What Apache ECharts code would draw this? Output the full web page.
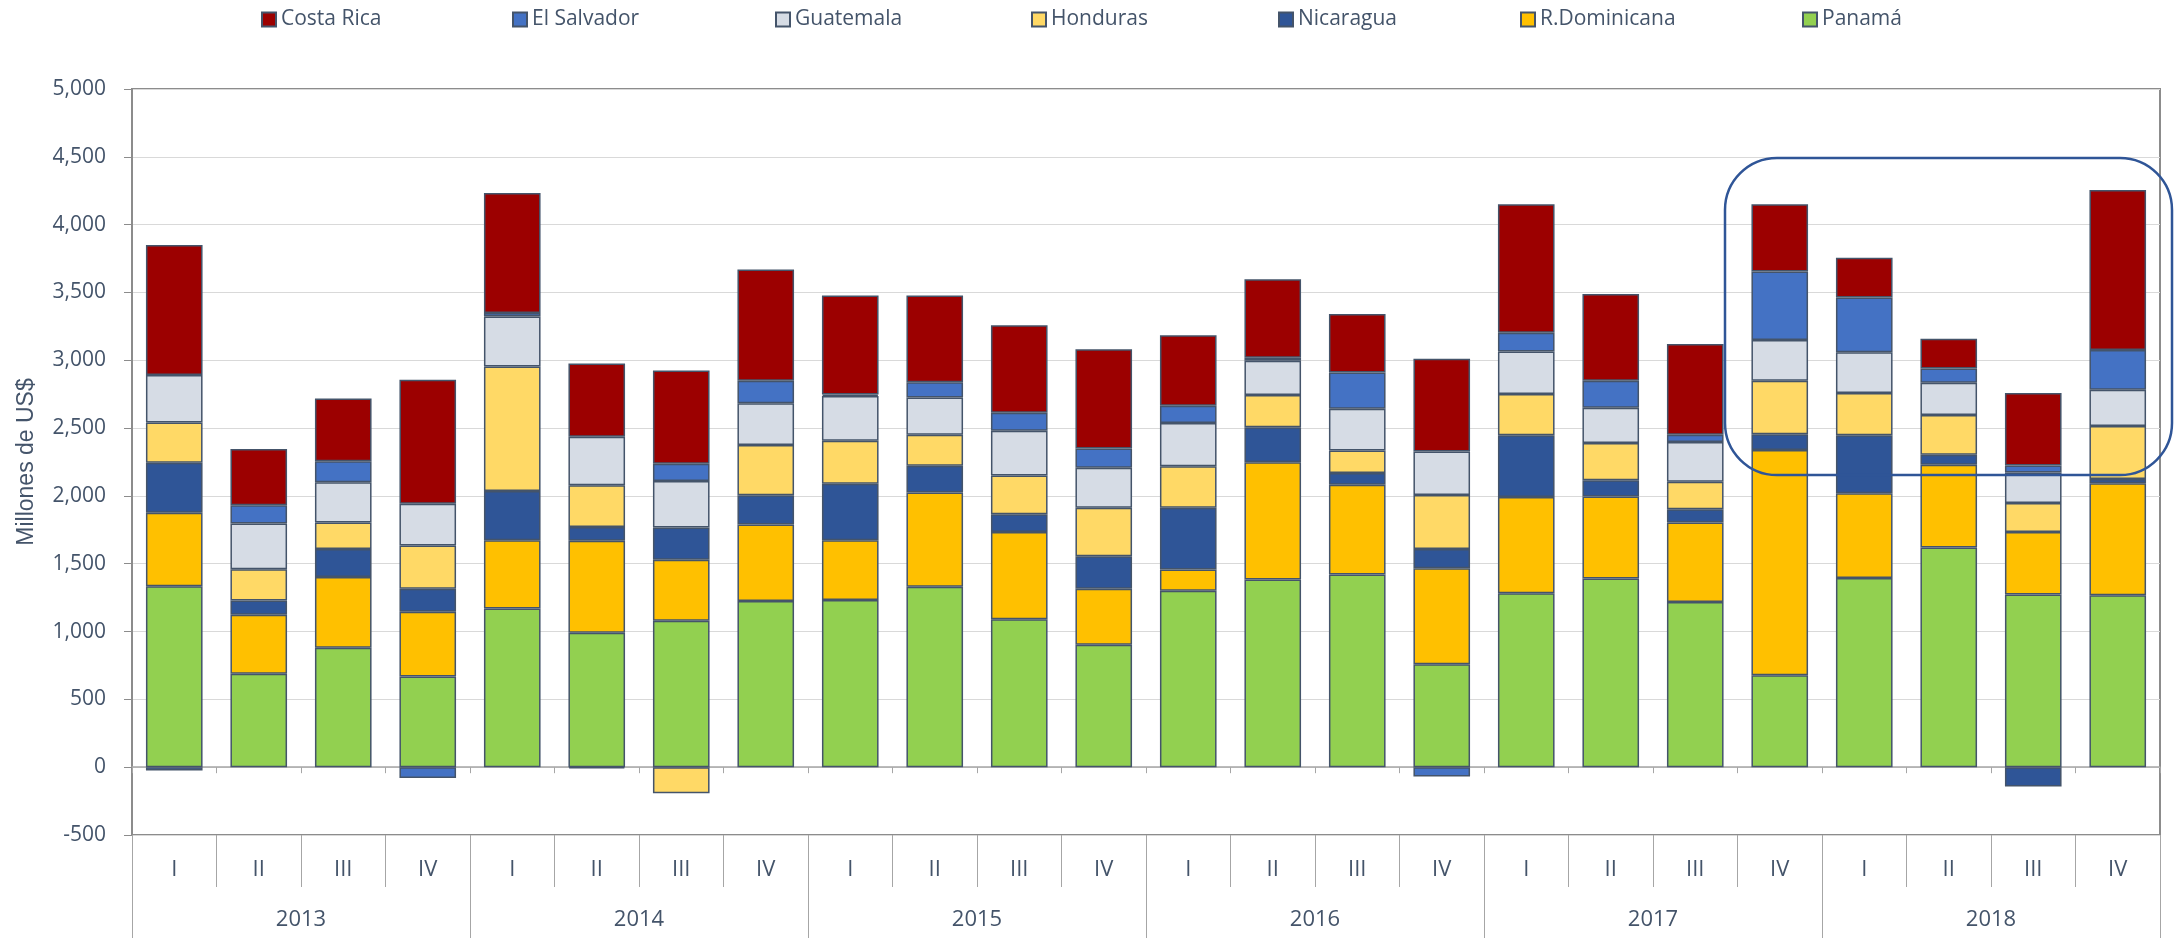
<!DOCTYPE html>
<html>
<head>
<meta charset="utf-8">
<script src="https://cdn.jsdelivr.net/npm/echarts@6.0.0/dist/echarts.min.js"></script>
<style>
  html, body { margin: 0; padding: 0; background: #fff; }
  #chart { width: 2174px; height: 938px; }
</style>
</head>
<body>
<div id="chart"></div>
<script>
// years and quarters (tick labels)
const years = ['2013', '2014', '2015', '2016', '2017', '2018'];
const quarterNames = ['I', 'II', 'III', 'IV'];
const quarters = years.flatMap(() => quarterNames);
const periods = years.flatMap(y => quarterNames.map(q => y + ' ' + q));

// series values, millones de US$
const panama      = [1334, 688, 880, 669, 1169, 992, 1079, 1225, 1233, 1331, 1090, 902, 1301, 1383, 1421, 759, 1282, 1391, 1218, 677, 1395, 1620, 1274, 1267];
const rDominicana = [542, 436, 522, 477, 504, 677, 451, 564, 440, 695, 643, 414, 157, 865, 661, 707, 710, 605, 586, 1661, 624, 609, 459, 827];
const nicaragua   = [368, 105, 207, 170, 364, 102, 237, 215, 417, 196, 131, 240, 455, 259, 87, 143, 455, 120, 98, 117, 428, 75, -143, 30];
const honduras    = [297, 230, 195, 319, 918, 308, -192, 372, 316, 229, 286, 357, 305, 237, 165, 398, 305, 275, 203, 394, 312, 293, 214, 391];
const guatemala   = [350, 338, 297, 308, 368, 357, 342, 308, 331, 274, 331, 294, 319, 252, 309, 320, 312, 259, 293, 301, 301, 237, 226, 267];
const elSalvador  = [-25, 135, 154, -79, 26, -10, 128, 165, 10, 113, 132, 142, 128, 23, 267, -68, 139, 199, 53, 504, 402, 106, 52, 293];
const costaRica   = [958, 414, 463, 914, 884, 541, 688, 820, 730, 639, 646, 733, 519, 578, 432, 684, 947, 639, 669, 496, 293, 218, 534, 1180];

const legendOrder = ['Costa Rica', 'El Salvador', 'Guatemala', 'Honduras', 'Nicaragua', 'R.Dominicana', 'Panamá'];
// left edge of each legend entry
const legendLeft = [256, 507, 770, 1026, 1273, 1515, 1797];

const textColor = '#44546A';
const font = 'Open Sans';

// stacked from the bottom up
const stackSeries = [
  { name: 'Panamá', data: panama, color: '#92D050' },
  { name: 'R.Dominicana', data: rDominicana, color: '#FFC000' },
  { name: 'Nicaragua', data: nicaragua, color: '#2F5597' },
  { name: 'Honduras', data: honduras, color: '#FFD966' },
  { name: 'Guatemala', data: guatemala, color: '#D6DCE5' },
  { name: 'El Salvador', data: elSalvador, color: '#4472C4' },
  { name: 'Costa Rica', data: costaRica, color: '#9C0000' }
];

const chart = echarts.init(document.getElementById('chart'));

chart.setOption({
  animation: false,
  legend: legendOrder.map((name, i) => ({
    data: [name],
    left: legendLeft[i],
    top: 4,
    icon: 'rect',
    itemWidth: 14,
    itemHeight: 14,
    itemGap: 6,
    textStyle: { color: textColor, fontFamily: font, fontSize: 21 }
  })),
  grid: {
    left: 132,
    right: 14,
    top: 89,
    bottom: 103,
    show: true,
    borderColor: '#8C8C8C',
    borderWidth: 2
  },
  xAxis: [
    {
      // axis line through zero
      type: 'category',
      data: periods,
      axisLine: { onZero: true, lineStyle: { color: '#A6A6A6', width: 1.5 } },
      axisTick: { show: true, length: 6, lineStyle: { color: '#A6A6A6' } },
      axisLabel: { show: false }
    },
    {
      // quarter row
      type: 'category',
      data: quarters,
      position: 'bottom',
      axisLine: { show: false, onZero: false },
      axisTick: { show: true, length: 52, lineStyle: { color: '#A6A6A6', width: 1 } },
      axisLabel: { margin: 24, color: textColor, fontFamily: font, fontSize: 22 }
    },
    {
      // year row
      type: 'category',
      data: years,
      position: 'bottom',
      axisLine: { show: false, onZero: false },
      axisTick: { show: true, length: 110, lineStyle: { color: '#A6A6A6', width: 1 } },
      axisLabel: { margin: 74, color: textColor, fontFamily: font, fontSize: 22 }
    }
  ],
  yAxis: {
    type: 'value',
    min: -500,
    max: 5000,
    interval: 500,
    name: 'Millones de US$',
    nameLocation: 'middle',
    nameGap: 94,
    nameTextStyle: { color: textColor, fontFamily: 'Liberation Sans', fontSize: 23 },
    axisLine: { show: true, lineStyle: { color: '#8C8C8C', width: 2 } },
    axisTick: { show: true, length: 8, lineStyle: { color: '#8C8C8C' } },
    axisLabel: {
      margin: 26,
      color: textColor,
      fontFamily: font,
      fontSize: 21,
      formatter: v => v.toLocaleString('en-US')
    },
    splitLine: { lineStyle: { color: '#D9D9D9', width: 1 } }
  },
  series: stackSeries.map(s => ({
    name: s.name,
    type: 'bar',
    stack: 'total',
    xAxisIndex: 0,
    data: s.data,
    barCategoryGap: '33%',
    itemStyle: { color: s.color, borderColor: '#44546A', borderWidth: 1.5 }
  })),
  graphic: [
    {
      // highlight round the last quarters
      type: 'rect',
      z: 100,
      shape: { x: 1725, y: 158, width: 447, height: 317, r: 52 },
      style: { fill: 'none', stroke: '#2F5597', lineWidth: 2.5 }
    }
  ]
});
</script>
</body>
</html>
